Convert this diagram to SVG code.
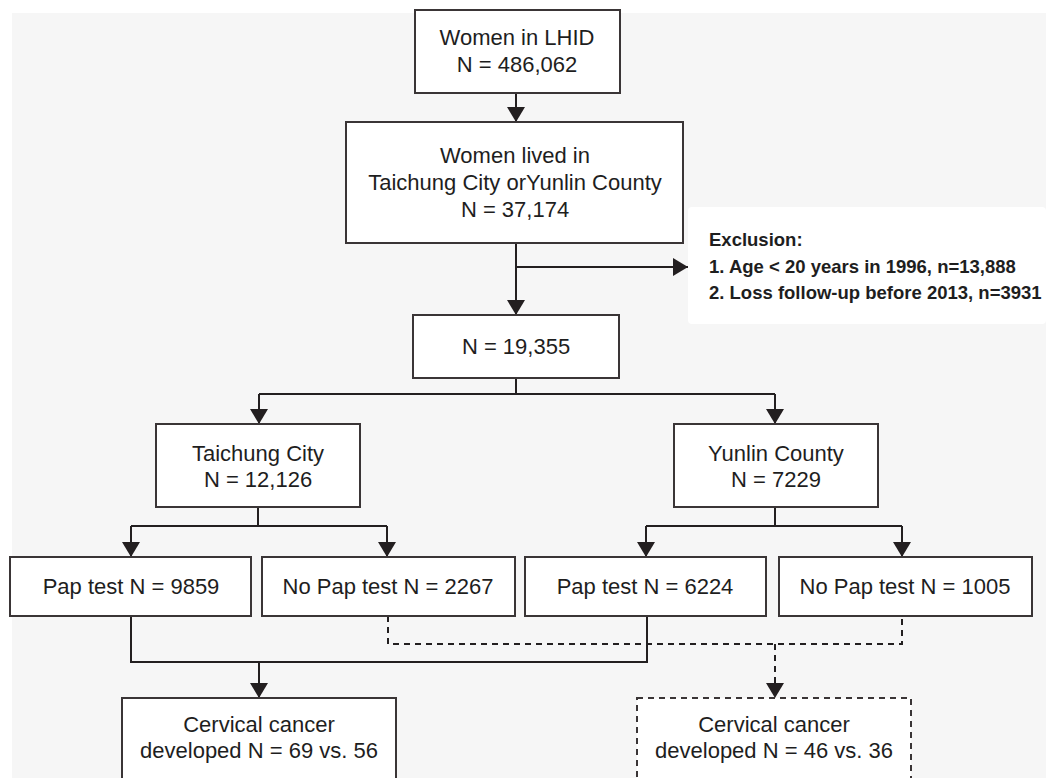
<svg xmlns="http://www.w3.org/2000/svg" width="1046" height="778" viewBox="0 0 1046 778">
<defs>
<marker id="ah" viewBox="0 0 15 18" refX="15" refY="9" markerWidth="15" markerHeight="18" markerUnits="userSpaceOnUse" orient="auto">
<path d="M0,0 L15,9 L0,18 Z" fill="#231f20"/>
</marker>
</defs>
<style>
.box{fill:#ffffff;stroke:#3a3536;stroke-width:2}
.dbox{fill:#ffffff;stroke:#3a3536;stroke-width:2;stroke-dasharray:6,5}
.t{font-family:"Liberation Sans",Arial,sans-serif;font-size:22px;fill:#1e1e1e;text-anchor:middle}
.ex{font-family:"Liberation Sans",Arial,sans-serif;font-size:18.5px;font-weight:bold;fill:#1e1e1e}
.ln{fill:none;stroke:#231f20;stroke-width:2}
.dl{fill:none;stroke:#231f20;stroke-width:2;stroke-dasharray:6,5}
</style>
<rect x="0" y="0" width="1046" height="778" fill="#ffffff"/>
<rect x="12" y="13" width="1034" height="765" fill="#f6f6f6"/>
<rect x="688" y="207" width="358" height="117" rx="4" fill="#ffffff"/>

<g id="connectors">
<line class="ln" x1="516" y1="93" x2="516" y2="122" marker-end="url(#ah)"/>
<line class="ln" x1="516" y1="243" x2="516" y2="315" marker-end="url(#ah)"/>
<line class="ln" x1="516" y1="267" x2="688" y2="267" marker-end="url(#ah)"/>
<path class="ln" d="M516,378 V394 M259,394 H775"/>
<line class="ln" x1="259" y1="394" x2="259" y2="424" marker-end="url(#ah)"/>
<line class="ln" x1="775" y1="394" x2="775" y2="424" marker-end="url(#ah)"/>
<path class="ln" d="M258,507 V526 M131,526 H387"/>
<line class="ln" x1="131" y1="526" x2="131" y2="557" marker-end="url(#ah)"/>
<line class="ln" x1="387" y1="526" x2="387" y2="557" marker-end="url(#ah)"/>
<path class="ln" d="M775,507 V526 M646,526 H902"/>
<line class="ln" x1="646" y1="526" x2="646" y2="557" marker-end="url(#ah)"/>
<line class="ln" x1="902" y1="526" x2="902" y2="557" marker-end="url(#ah)"/>
<path class="ln" d="M131,616 V662 H647 V616"/>
<line class="ln" x1="259" y1="662" x2="259" y2="698" marker-end="url(#ah)"/>
<path class="dl" d="M388,616 V644 H902 V616"/>
<line class="dl" x1="775" y1="644" x2="775" y2="698" marker-end="url(#ah)"/>
</g>

<g id="n-lhid">
<rect class="box" x="415" y="10" width="205" height="83"/>
<text class="t" x="517" y="45">Women in LHID</text>
<text class="t" x="517" y="72">N = 486,062</text>
</g>
<g id="n-lived">
<rect class="box" x="346" y="122" width="337" height="121"/>
<text class="t" x="515" y="163">Women lived in</text>
<text class="t" x="515" y="190">Taichung City orYunlin County</text>
<text class="t" x="515" y="217">N = 37,174</text>
</g>
<g id="n-exclusion">
<text class="ex" x="709" y="246">Exclusion:</text>
<text class="ex" x="709" y="273">1. Age &lt; 20 years in 1996, n=13,888</text>
<text class="ex" x="709" y="299">2. Loss follow-up before 2013, n=3931</text>
</g>
<g id="n-19355">
<rect class="box" x="413" y="315" width="206" height="63"/>
<text class="t" x="516" y="354">N = 19,355</text>
</g>
<g id="n-taichung">
<rect class="box" x="156" y="424" width="204" height="83"/>
<text class="t" x="258" y="461">Taichung City</text>
<text class="t" x="258" y="487">N = 12,126</text>
</g>
<g id="n-yunlin">
<rect class="box" x="674" y="424" width="204" height="83"/>
<text class="t" x="776" y="461">Yunlin County</text>
<text class="t" x="776" y="487">N = 7229</text>
</g>
<g id="n-pap-t">
<rect class="box" x="10" y="557" width="241" height="59"/>
<text class="t" x="131" y="594">Pap test N = 9859</text>
</g>
<g id="n-nopap-t">
<rect class="box" x="262" y="557" width="253" height="59"/>
<text class="t" x="388" y="594">No Pap test N = 2267</text>
</g>
<g id="n-pap-y">
<rect class="box" x="525" y="557" width="241" height="59"/>
<text class="t" x="645" y="594">Pap test N = 6224</text>
</g>
<g id="n-nopap-y">
<rect class="box" x="779" y="557" width="253" height="59"/>
<text class="t" x="905" y="594">No Pap test N = 1005</text>
</g>
<g id="n-cc1">
<rect class="box" x="122" y="698" width="274" height="90"/>
<text class="t" x="259" y="732">Cervical cancer</text>
<text class="t" x="259" y="758">developed N = 69 vs. 56</text>
</g>
<g id="n-cc2">
<rect class="dbox" x="637" y="698" width="274" height="90"/>
<text class="t" x="774" y="732">Cervical cancer</text>
<text class="t" x="774" y="758">developed N = 46 vs. 36</text>
</g>
</svg>
